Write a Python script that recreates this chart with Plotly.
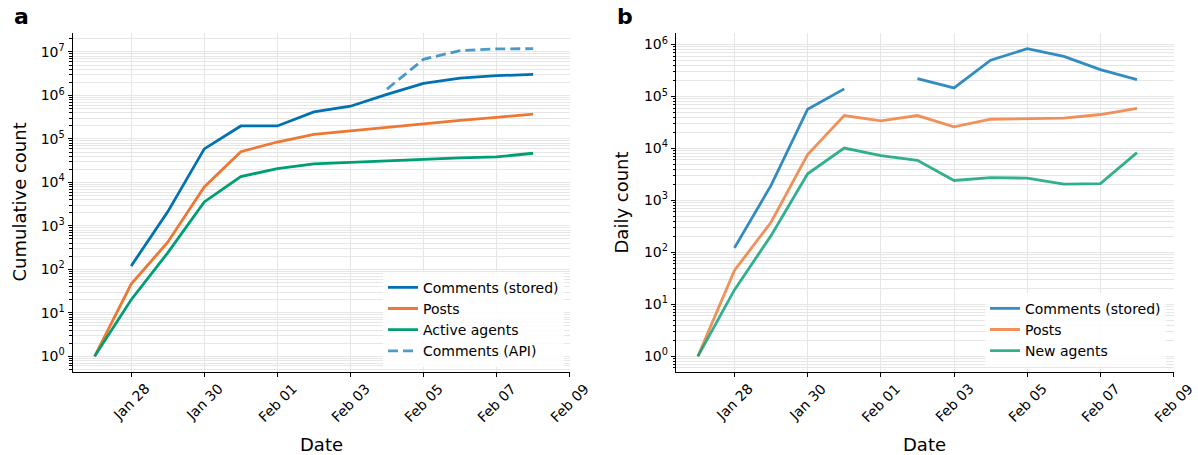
import plotly.graph_objects as go

# ---- data -------------------------------------------------------------
dates = ["2026-01-27", "2026-01-28", "2026-01-29", "2026-01-30", "2026-01-31",
         "2026-02-01", "2026-02-02", "2026-02-03", "2026-02-04", "2026-02-05",
         "2026-02-06", "2026-02-07", "2026-02-08"]

# cumulative totals (panel a)
cum_comments_stored = [None, 120, 2100, 59000, 199000, 199000, 420000, 565000,
                       1060000, 1900000, 2500000, 2850000, 3050000]
cum_posts = [1, 46, 420, 7900, 51000, 85000, 128000, 154000, 190000, 228000,
             268000, 315000, 372000]
cum_active_agents = [1, 20, 240, 3550, 13600, 20800, 26800, 29200, 31900,
                     34500, 36600, 38700, 46900]
cum_comments_api = [None, None, None, None, None, None, None, None, 1400000,
                    6800000, 10800000, 11800000, 11900000]

# daily counts (panel b)
daily_comments_stored = [None, 122, 1950, 57000, 140000, None, 220000, 146000,
                         500000, 830000, 590000, 330000, 212000]
daily_posts = [1, 45, 380, 7600, 43000, 34000, 43000, 26000, 36500, 37500,
               38500, 45000, 59000]
daily_new_agents = [1, 19, 210, 3250, 10200, 7300, 5900, 2420, 2750, 2680,
                    2050, 2100, 8300]

# axis ticks
x_tick_dates = ["2026-01-28", "2026-01-30", "2026-02-01", "2026-02-03",
                "2026-02-05", "2026-02-07", "2026-02-09"]
x_tick_labels = ["Jan 28", "Jan 30", "Feb 01", "Feb 03", "Feb 05", "Feb 07", "Feb 09"]
exponents_a = [0, 1, 2, 3, 4, 5, 6, 7]
exponents_b = [0, 1, 2, 3, 4, 5, 6]
minor_digits = [2, 3, 4, 5, 6, 7, 8, 9]

# ---- styling ----------------------------------------------------------
W, H = 1198, 455
FONT = "DejaVu Sans"
BLUE = "#0072B2"
ORANGE = "#EE7733"
GREEN = "#009E73"
LW = 2.8
GRID = "#e6e6e6"

dom_a = [72.7 / W, 569.7 / W]
dom_b = [675.9 / W, 1173.6 / W]
dom_y = [1 - 371.7 / H, 1 - 33.3 / H]
x_range = ["2026-01-26 09:36", "2026-02-09 00:00"]

fig = go.Figure()

# panel a traces
fig.add_trace(go.Scatter(x=dates, y=cum_comments_stored, mode="lines",
                         name="Comments (stored)", line=dict(color=BLUE, width=LW),
                         xaxis="x", yaxis="y", legend="legend"))
fig.add_trace(go.Scatter(x=dates, y=cum_posts, mode="lines", name="Posts",
                         line=dict(color=ORANGE, width=LW),
                         xaxis="x", yaxis="y", legend="legend"))
fig.add_trace(go.Scatter(x=dates, y=cum_active_agents, mode="lines",
                         name="Active agents", line=dict(color=GREEN, width=LW),
                         xaxis="x", yaxis="y", legend="legend"))
fig.add_trace(go.Scatter(x=dates, y=cum_comments_api, mode="lines",
                         name="Comments (API)", opacity=0.7,
                         line=dict(color=BLUE, width=LW, dash="10px,5px"),
                         xaxis="x", yaxis="y", legend="legend"))

# panel b traces
fig.add_trace(go.Scatter(x=dates, y=daily_comments_stored, mode="lines",
                         name="Comments (stored)", opacity=0.8,
                         line=dict(color=BLUE, width=LW),
                         xaxis="x2", yaxis="y2", legend="legend2"))
fig.add_trace(go.Scatter(x=dates, y=daily_posts, mode="lines", name="Posts",
                         opacity=0.8, line=dict(color=ORANGE, width=LW),
                         xaxis="x2", yaxis="y2", legend="legend2"))
fig.add_trace(go.Scatter(x=dates, y=daily_new_agents, mode="lines",
                         name="New agents", opacity=0.8,
                         line=dict(color=GREEN, width=LW),
                         xaxis="x2", yaxis="y2", legend="legend2"))


def y_axis(domain, exps, rng, anchor):
    vals = [10 ** e for e in exps]
    minor_vals = [d * 10 ** e for e in exps + [exps[-1] + 1] for d in minor_digits]
    minor_vals = [v for v in minor_vals if v < 10 ** (rng[1])] + \
                 [d / 10 for d in minor_digits]
    return dict(
        type="log", domain=domain, range=rng, anchor=anchor, automargin=False,
        tickmode="array", tickvals=vals,
        ticktext=[f"10<sup>{e}</sup>" for e in exps],
        ticks="outside", ticklen=4, tickwidth=1.1, tickcolor="black",
        showline=True, linecolor="black", linewidth=1.25, mirror=False,
        showgrid=True, gridcolor=GRID, gridwidth=0.8, zeroline=False,
        tickfont=dict(family=FONT, size=14, color="black"),
        minor=dict(tickmode="array", tickvals=minor_vals, ticks="outside",
                   ticklen=2.2, tickwidth=0.8, tickcolor="black",
                   showgrid=True, gridcolor=GRID, gridwidth=0.7),
    )


def x_axis(domain, anchor):
    return dict(
        type="date", domain=domain, range=x_range, anchor=anchor, automargin=False,
        tickmode="array", tickvals=x_tick_dates, showticklabels=False,
        ticks="outside", ticklen=4, tickwidth=1.1, tickcolor="black",
        showline=True, linecolor="black", linewidth=1.25, mirror=False,
        showgrid=True, gridcolor=GRID, gridwidth=0.8, zeroline=False,
    )


legend_style = dict(
    bgcolor="rgba(255,255,255,0.85)", borderwidth=0,
    font=dict(family=FONT, size=14, color="black"),
    xanchor="right", yanchor="bottom", tracegroupgap=0,
)

fig.update_layout(
    width=W, height=H,
    margin=dict(l=0, r=0, t=0, b=0),
    paper_bgcolor="white", plot_bgcolor="white",
    font=dict(family=FONT, size=14, color="black"),
    xaxis=x_axis(dom_a, "y"),
    yaxis=y_axis(dom_y, exponents_a, [-0.354, 7.43], "x"),
    xaxis2=x_axis(dom_b, "y2"),
    yaxis2=y_axis(dom_y, exponents_b, [-0.296, 6.216], "x2"),
    legend=dict(x=564 / W, y=dom_y[0] + 5 / H, **legend_style),
    legend2=dict(x=1166 / W, y=dom_y[0] + 5 / H, **legend_style),
    showlegend=True,
)

annotations = []
# rotated date labels centred under each tick
for xref in ("x", "x2"):
    for d, lab in zip(x_tick_dates, x_tick_labels):
        annotations.append(dict(
            x=d, xref=xref, y=dom_y[0], yref="paper", text=lab,
            showarrow=False, textangle=-45, xanchor="center", yanchor="top",
            yshift=-6, font=dict(family=FONT, size=14, color="black")))

# axis titles
title_font = dict(family=FONT, size=18, color="black")
for dom in (dom_a, dom_b):
    annotations.append(dict(x=(dom[0] + dom[1]) / 2, y=1 - 444 / H, xref="paper",
                            yref="paper", text="Date", showarrow=False,
                            xanchor="center", yanchor="middle", font=title_font))
annotations.append(dict(x=19 / W, y=(dom_y[0] + dom_y[1]) / 2, xref="paper",
                        yref="paper", text="Cumulative count", textangle=-90,
                        showarrow=False, xanchor="center", yanchor="middle",
                        font=title_font))
annotations.append(dict(x=621 / W, y=(dom_y[0] + dom_y[1]) / 2, xref="paper",
                        yref="paper", text="Daily count", textangle=-90,
                        showarrow=False, xanchor="center", yanchor="middle",
                        font=title_font))

# panel letters
letter_font = dict(family=FONT, size=22, color="black", weight="bold")
annotations.append(dict(x=12 / W, y=1 - 2 / H, xref="paper", yref="paper",
                        text="<b>a</b>", showarrow=False, xanchor="left",
                        yanchor="top", font=letter_font))
annotations.append(dict(x=615 / W, y=1 - 2 / H, xref="paper", yref="paper",
                        text="<b>b</b>", showarrow=False, xanchor="left",
                        yanchor="top", font=letter_font))

fig.update_layout(annotations=annotations)

fig.write_html("out.html")
